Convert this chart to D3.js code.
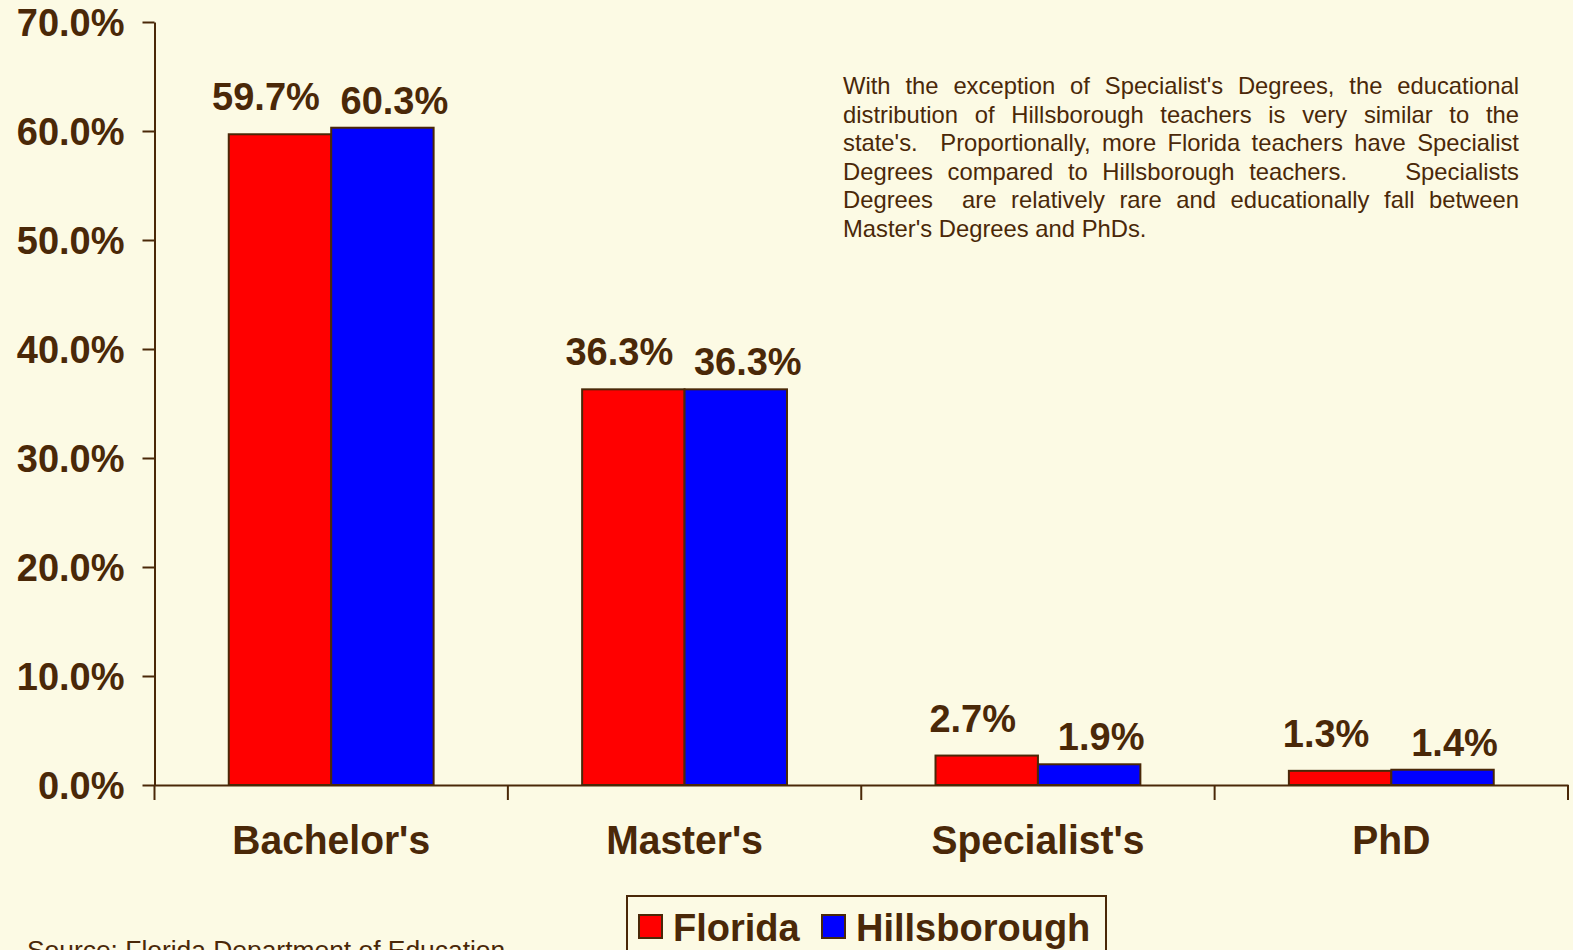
<!DOCTYPE html>
<html>
<head>
<meta charset="utf-8">
<script src="https://cdn.jsdelivr.net/npm/d3@7"></script>
<style>
    html, body { margin: 0; padding: 0; background: #fcfae4; }
    svg { display: block; font-family: "Liberation Sans", Arial, sans-serif; }
    .bold { font-weight: bold; fill: #4a2808; }
    .note { fill: #4a2808; font-size: 23.8px; }
</style>
</head>
<body>
<svg id="chart" width="1573" height="950"></svg>
<script>
const WIDTH = 1573;
const HEIGHT = 950;

const categories = ["Bachelor's", "Master's", "Specialist's", "PhD"];
const series = ["Florida", "Hillsborough"];
const florida = [59.7, 36.3, 2.7, 1.3];
const hillsborough = [60.3, 36.3, 1.9, 1.4];
const yTicks = [0, 10, 20, 30, 40, 50, 60, 70];

const noteLines = [
    "With the exception of Specialist's Degrees, the educational",
    "distribution of Hillsborough teachers is very similar to the",
    "state's.  Proportionally, more Florida teachers have Specialist",
    "Degrees compared to Hillsborough teachers.    Specialists",
    "Degrees  are relatively rare and educationally fall between",
    "Master's Degrees and PhDs."
];
const sourceText = "Source: Florida Department of Education";

const COLORS = { Florida: "#ff0000", Hillsborough: "#0000ff" };
const INK = "#4a2808";
// label nudges per series, so labels sit a little outward like the original
const LABEL_DX = { Florida: -14, Hillsborough: 12 };
const LABEL_DY = { Florida: -24, Hillsborough: -14 };

const x0 = 154.5, x1 = 1568;
const yBottom = 785, yTop = 22;

const svg = d3.select("#chart");

svg.append("rect")
    .attr("width", WIDTH)
    .attr("height", HEIGHT)
    .attr("fill", "#fcfae4");

const x = d3.scaleBand()
    .domain(categories)
    .range([x0, x1])
    .paddingInner(0)
    .paddingOuter(0);

const xs = d3.scaleBand()
    .domain(series)
    .range([0, x.step()])
    .paddingInner(0)
    .paddingOuter(0.725);

const y = d3.scaleLinear()
    .domain([0, 70])
    .range([yBottom, yTop]);

const rows = categories.map((c, i) => ({
    category: c,
    values: [
        { key: "Florida", value: florida[i] },
        { key: "Hillsborough", value: hillsborough[i] }
    ]
}));

// y axis
const yAxis = svg.append("g")
    .attr("transform", `translate(${x0},0)`)
    .call(d3.axisLeft(y)
        .tickValues(yTicks)
        .tickSize(12)
        .tickSizeOuter(0)
        .tickPadding(18)
        .tickFormat(d => d.toFixed(1) + "%"));

yAxis.select(".domain").attr("stroke", INK).attr("stroke-width", 2);
yAxis.selectAll(".tick line").attr("stroke", INK).attr("stroke-width", 2);
yAxis.selectAll(".tick text")
    .attr("class", "bold")
    .attr("fill", INK)
    .style("font-size", "38px")
    .attr("dy", "0.36em");

// bars
const groups = svg.append("g")
    .selectAll("g")
    .data(rows)
    .join("g")
    .attr("transform", d => `translate(${x(d.category)},0)`);

groups.selectAll("rect")
    .data(d => d.values)
    .join("rect")
    .attr("x", d => xs(d.key))
    .attr("width", xs.bandwidth())
    .attr("y", d => y(d.value))
    .attr("height", d => y(0) - y(d.value))
    .attr("fill", d => COLORS[d.key])
    .attr("stroke", INK)
    .attr("stroke-width", 2);

groups.selectAll("text")
    .data(d => d.values)
    .join("text")
    .attr("class", "bold")
    .attr("x", d => xs(d.key) + xs.bandwidth() / 2 + LABEL_DX[d.key])
    .attr("y", d => y(d.value) + LABEL_DY[d.key])
    .attr("text-anchor", "middle")
    .style("font-size", "38px")
    .text(d => d.value.toFixed(1) + "%");

// x axis
const xAxis = svg.append("g")
    .attr("transform", `translate(0,${yBottom})`)
    .call(d3.axisBottom(x).tickSize(0).tickPadding(37));

xAxis.select(".domain").attr("stroke", INK).attr("stroke-width", 2);
xAxis.selectAll(".tick text")
    .attr("class", "bold")
    .attr("fill", INK)
    .style("font-size", "39px")
    .attr("transform", "scale(1,1.06)");

xAxis.selectAll(".sep")
    .data(d3.range(categories.length + 1))
    .join("line")
    .attr("class", "sep")
    .attr("x1", i => x0 + i * x.step())
    .attr("x2", i => x0 + i * x.step())
    .attr("y1", 0)
    .attr("y2", 15)
    .attr("stroke", INK)
    .attr("stroke-width", 2);

// justified note text
const NOTE_LEFT = 843, NOTE_RIGHT = 1519, NOTE_TOP = 94, NOTE_LH = 28.5;
const note = svg.append("g").attr("class", "note");

const probe = note.append("text").text("a a");
const probeOne = note.append("text").text("aa");
const plainGap = probe.node().getComputedTextLength() - probeOne.node().getComputedTextLength();
probe.remove();
probeOne.remove();

noteLines.forEach((line, li) => {
    const tokens = line.split(" ");
    const lineY = NOTE_TOP + li * NOTE_LH;
    const texts = tokens.map(t => note.append("text").attr("y", lineY).text(t));
    const widths = texts.map(t => t.node().getComputedTextLength());
    const spaces = tokens.length - 1;
    const last = li === noteLines.length - 1;
    const gap = last ? plainGap : (NOTE_RIGHT - NOTE_LEFT - d3.sum(widths)) / spaces;
    let cx = NOTE_LEFT;
    texts.forEach((t, i) => {
        t.attr("x", cx);
        cx += widths[i] + gap;
    });
});

// legend
const legend = svg.append("g");
legend.append("rect")
    .attr("x", 627)
    .attr("y", 896)
    .attr("width", 479)
    .attr("height", 80)
    .attr("fill", "none")
    .attr("stroke", INK)
    .attr("stroke-width", 2);

const legendItems = legend.selectAll("g")
    .data(series)
    .join("g")
    .attr("transform", (d, i) => `translate(${i === 0 ? 639 : 822},915)`);

legendItems.append("rect")
    .attr("width", 23)
    .attr("height", 23)
    .attr("fill", d => COLORS[d])
    .attr("stroke", INK)
    .attr("stroke-width", 2);

legendItems.append("text")
    .attr("class", "bold")
    .attr("x", 34)
    .attr("y", 26)
    .style("font-size", "38px")
    .text(d => d);

// source (cut by the bottom edge, as in the original)
svg.append("text")
    .attr("x", 27)
    .attr("y", 959)
    .attr("fill", INK)
    .style("font-size", "26.4px")
    .text(sourceText);
</script>
</body>
</html>
